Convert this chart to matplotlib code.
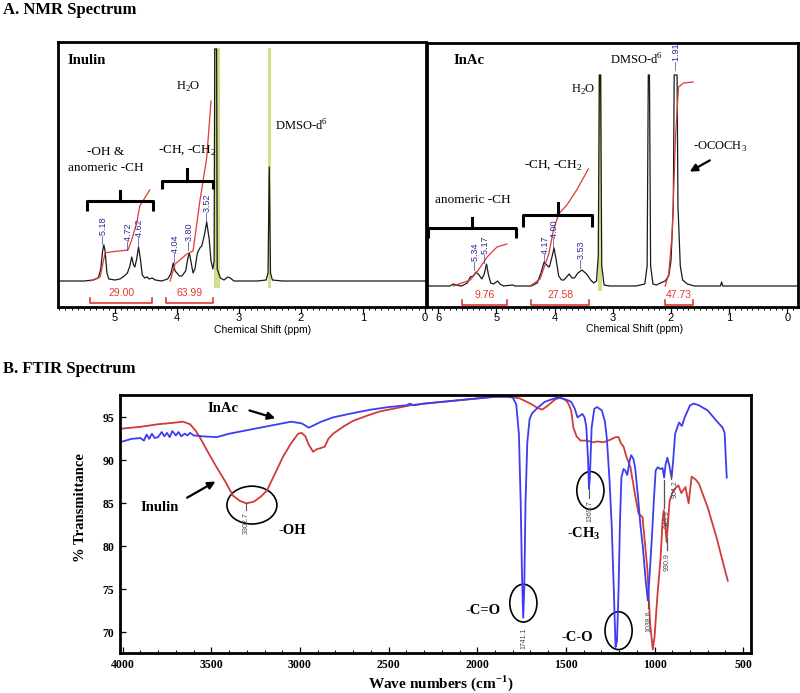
import matplotlib
matplotlib.use("Agg")
import matplotlib.pyplot as plt
import matplotlib.transforms as mtransforms
from matplotlib.patches import Ellipse
from matplotlib.ticker import MultipleLocator

SERIF = "Liberation Serif"
SANS = "Liberation Sans"

# ---------------- NMR: Inulin (ppm, intensity) ----------------
inulin_ppm = [5.92, 5.50, 5.35, 5.27, 5.23, 5.20, 5.18, 5.16, 5.13, 5.10, 5.00, 4.92,
              4.85, 4.80, 4.76, 4.73, 4.70, 4.68, 4.65, 4.62, 4.59, 4.56, 4.52, 4.48,
              4.45, 4.40, 4.35, 4.25, 4.15, 4.10, 4.06, 4.03, 4.00, 3.96, 3.92, 3.86,
              3.82, 3.80, 3.77, 3.74, 3.71, 3.67, 3.63, 3.60, 3.56, 3.52, 3.48, 3.45,
              3.42, 3.40, 3.39, 3.36, 3.35, 3.30, 3.24, 3.18, 3.14, 3.08, 2.70, 2.56,
              2.53, 2.51, 2.49, 2.46, 2.30, -0.1]
inulin_int = [0, 0, 1, 3, 12, 30, 36, 30, 8, 2, 1, 2,
              5, 8, 15, 24, 16, 14, 22, 34, 22, 6, 3, 4,
              2, 3, 1, 0, 2, 7, 18, 10, 8, 5, 5, 10,
              24, 28, 18, 8, 12, 28, 33, 35, 45, 59, 42, 20,
              12, 20, 232, 232, 12, 3, 1, 4, 3, 0, 0, 1,
              8, 114, 8, 1, 0, 0]

inulin_integ_ppm = [[5.40, 5.24, 5.16, 5.08, 4.79, 4.73, 4.65, 4.60, 4.44],
                    [4.11, 4.03, 3.84, 3.74, 3.68, 3.63, 3.52, 3.45]]
inulin_integ_val = [[0, 4, 28, 29, 31, 41, 58, 75, 91],
                    [0, 17, 27, 30, 57, 80, 123, 180]]
inulin_bar_ranges = [(5.40, 4.40), (4.18, 3.42)]
inulin_bar_labels = ["29.00", "63.99"]
inulin_peak_labels = ["5.18", "4.72", "4.62", "4.04", "3.80", "3.52"]
inulin_peak_pos = [(5.18, 37), (4.79, 31), (4.61, 35), (4.02, 19), (3.79, 31), (3.50, 60)]

# ---------------- NMR: InAc (ppm, intensity) ----------------
inac_ppm = [6.19, 5.80, 5.74, 5.70, 5.60, 5.50, 5.45, 5.40, 5.35, 5.30, 5.25, 5.21,
            5.17, 5.14, 5.10, 5.05, 4.98, 4.94, 4.88, 4.72, 4.68, 4.40, 4.30, 4.24,
            4.18, 4.12, 4.09, 4.05, 4.01, 3.97, 3.93, 3.88, 3.84, 3.78, 3.75, 3.70,
            3.66, 3.60, 3.53, 3.45, 3.38, 3.33, 3.28, 3.25, 3.23, 3.21, 3.19, 3.15,
            3.05, 2.60, 2.45, 2.41, 2.39, 2.37, 2.35, 2.31, 2.25, 2.18, 2.10, 2.04,
            2.00, 1.96, 1.945, 1.895, 1.88, 1.84, 1.80, 1.72, 1.60, 1.15, 1.13, 1.11, -0.2]
inac_int = [0, 0, 2, 1, 0, 3, 9, 10, 14, 11, 7, 12,
            22, 12, 3, 2, 5, 2, 0, 1, 0, 0, 3, 12,
            24, 20, 19, 28, 38, 25, 10, 6, 6, 10, 12, 8,
            8, 13, 16, 12, 6, 3, 5, 30, 211, 211, 20, 1,
            0, 0, 2, 20, 211, 211, 20, 2, 1, 3, 5, 10,
            25, 80, 211, 211, 80, 20, 6, 2, 0, 0, 4, 0, 0]

inac_integ_ppm = [[5.74, 5.45, 5.31, 5.16, 4.99, 4.82],
                  [4.42, 4.25, 4.10, 4.02, 3.93, 3.79, 3.62, 3.42],
                  [2.10, 2.04, 1.98, 1.92, 1.87, 1.78, 1.62]]
inac_integ_val = [[0, 6, 16, 29, 39, 42],
                  [0, 7, 32, 56, 72, 81, 96, 117],
                  [0, 12, 52, 152, 199, 203, 204]]
inac_bar_ranges = [(5.60, 4.81), (4.40, 3.41), (2.10, 1.62)]
inac_bar_labels = ["9.76", "27.58", "47.73"]
inac_peak_labels = ["5.34", "5.17", "4.17", "4.00", "3.53", "1.91"]
inac_peak_pos = [(5.36, 16), (5.18, 23), (4.16, 23), (4.01, 39), (3.53, 18), (1.91, 216)]

# ---------------- FTIR (wavenumber, %T) ----------------
inac_wn = [4000, 3950, 3900, 3880, 3865, 3850, 3835, 3820, 3800, 3780, 3765, 3750,
           3735, 3720, 3700, 3685, 3670, 3650, 3635, 3620, 3600, 3550, 3470, 3400,
           3300, 3200, 3100, 3050, 2990, 2950, 2930, 2880, 2813, 2700, 2600, 2500,
           2400, 2380, 2360, 2300, 2200, 2100, 2000, 1900, 1830, 1800, 1780, 1765,
           1755, 1748, 1741, 1735, 1728, 1718, 1705, 1690, 1660, 1620, 1580, 1550,
           1520, 1490, 1470, 1450, 1435, 1420, 1407, 1395, 1385, 1375, 1370, 1365,
           1355, 1340, 1324, 1297, 1280, 1269, 1255, 1242, 1230, 1220, 1212, 1203,
           1195, 1187, 1175, 1165, 1154, 1140, 1132, 1120, 1110, 1093, 1080, 1066,
           1050, 1038, 1030, 1016, 1005, 994, 983, 967, 955, 946, 938, 928,
           918, 904, 895, 884, 862, 846, 830, 800, 780, 750, 700, 651,
           616, 605, 593]
inac_T = [92.2, 92.5, 92.6, 92.3, 93.0, 92.5, 93.1, 92.6, 92.7, 93.3, 92.8, 93.2,
          92.7, 93.4, 92.9, 93.3, 92.8, 93.1, 92.9, 93.2, 92.9, 92.8, 92.7, 93.1,
          93.5, 93.9, 94.3, 94.5, 94.3, 93.8, 94.0, 94.5, 95.0, 95.5, 95.9, 96.2,
          96.4, 96.6, 96.4, 96.6, 96.8, 97.0, 97.2, 97.4, 97.4, 97.3, 96.5, 93.0,
          85.0, 77.0, 71.7, 75.0, 85.0, 92.0, 94.8, 95.5, 96.1, 96.8, 97.1, 97.3,
          97.2, 97.0, 96.8, 96.0, 95.0, 95.2, 95.4, 95.0, 93.9, 90.0, 86.7, 88.0,
          93.8, 96.0, 96.2, 95.8, 94.5, 92.5, 88.0, 82.6, 75.0, 68.3, 69.0, 75.0,
          83.0, 88.0, 89.0, 88.8, 88.3, 90.0, 90.6, 90.2, 89.2, 85.7, 82.5, 79.9,
          76.0, 73.7, 76.0, 80.7, 85.0, 88.8, 89.2, 89.0, 89.1, 88.0, 89.5, 90.3,
          89.5, 88.0, 90.0, 93.1, 94.4, 94.0, 95.0, 96.4, 96.6, 96.4, 95.8, 94.6,
          93.8, 93.2, 88.0]

inulin_wn = [4000, 3900, 3800, 3700, 3660, 3620, 3590, 3565, 3520, 3470, 3420, 3378,
             3340, 3302, 3260, 3220, 3186, 3140, 3096, 3050, 3010, 2990, 2970, 2950,
             2926, 2905, 2887, 2860, 2840, 2813, 2750, 2700, 2621, 2548, 2450, 2379,
             2300, 2200, 2100, 2000, 1900, 1814, 1760, 1700, 1660, 1633, 1600, 1560,
             1531, 1500, 1486, 1470, 1458, 1440, 1418, 1380, 1350, 1320, 1288, 1250,
             1220, 1203, 1190, 1175, 1160, 1136, 1110, 1090, 1068, 1055, 1040, 1025,
             1010, 1000, 985, 966, 955, 948, 940, 932, 925, 915, 895, 866,
             849, 826, 808, 791, 770, 750, 700, 650, 600, 587]
inulin_T = [93.7, 93.9, 94.2, 94.4, 94.5, 94.2, 93.5, 92.7, 91.0, 89.2, 87.5, 85.9,
            85.3, 85.0, 85.2, 85.8, 86.5, 88.5, 90.4, 92.0, 93.1, 93.2, 92.8, 91.8,
            91.0, 91.3, 91.4, 91.6, 92.5, 93.1, 94.0, 94.6, 95.2, 95.7, 96.1, 96.4,
            96.6, 96.8, 97.0, 97.2, 97.4, 97.4, 97.2, 96.6, 96.1, 95.9, 96.4, 97.1,
            97.3, 97.0, 96.6, 95.8, 93.8, 92.8, 92.3, 92.3, 92.1, 92.2, 92.1, 92.4,
            92.7, 92.7, 92.0, 91.6, 90.5, 89.2, 86.0, 83.8, 83.4, 80.5, 77.2, 71.0,
            68.0, 69.5, 74.0, 78.7, 83.0, 84.2, 82.5, 80.5, 82.5, 85.3, 86.5, 87.1,
            86.2, 86.9, 85.0, 88.1, 87.8, 87.3, 84.5, 81.0, 77.0, 76.0]

ftir_peak_labels = ["3302.7", "1741.1", "1369.7", "1038.6", "945.9", "930.9", "904.2"]
ftir_peak_text_pos = [(3302, 84.0), (1738, 70.6), (1362, 85.4), (1030, 72.6),
                      (928, 84.2), (928, 79.2), (884, 87.7)]

NMR_BLACK = "#1a1a1a"
INTEG_RED = "#e03a30"
LABEL_BLUE = "#2b2b96"
BAND = "#d5dc8c"
FT_BLUE = "#3c3cf2"
FT_RED = "#d03c3a"


def style_nmr(ax, xlim, ylim):
    ax.set_xlim(*xlim)
    ax.set_ylim(*ylim)
    ax.set_yticks([])
    ax.xaxis.set_major_locator(MultipleLocator(1))
    ax.xaxis.set_minor_locator(MultipleLocator(0.1))
    ax.tick_params(axis="x", which="major", direction="out", length=4, width=0.9,
                   pad=0.5, labelsize=8)
    ax.tick_params(axis="x", which="minor", direction="out", length=2.2, width=0.7)
    for label in ax.get_xticklabels():
        label.set_fontfamily(SANS)
    for spine in ax.spines.values():
        spine.set_linewidth(2)
    trans = mtransforms.blended_transform_factory(ax.transData, ax.transAxes)
    ax.text(2.62, -0.085, "Chemical Shift (ppm)", transform=trans, ha="center",
            va="center", fontsize=7.5, family=SANS)


def draw_brace(ax, left, right, level, hook, tip):
    mid = (left + right) / 2
    ax.plot([left, left, right, right], [level - hook, level, level, level - hook],
            color="black", lw=2.2, solid_capstyle="butt")
    ax.plot([mid, mid], [level, level + tip], color="black", lw=2.2)


def draw_integrals(ax, xs, ys, bars, labels, bar_h, tick_h, label_h):
    for x, y in zip(xs, ys):
        ax.plot(x, y, color=INTEG_RED, lw=0.9)
    for (a, b), text in zip(bars, labels):
        ax.plot([a, a, b, b], [tick_h, bar_h, bar_h, tick_h], color=INTEG_RED, lw=1.2)
        ax.text((a + b) / 2, label_h, text, color=INTEG_RED, ha="center", va="center",
                fontsize=7.5, family=SANS)


def draw_peak_labels(ax, labels, positions):
    for text, (x, y) in zip(labels, positions):
        ax.text(x, y, "\u2014" + text, rotation=90, ha="center", va="bottom",
                color=LABEL_BLUE, fontsize=6.5, family=SANS)


fig = plt.figure(figsize=(8, 6.93), dpi=100)

# ---------- A. NMR, Inulin ----------
ax1 = fig.add_axes([0.0725, 0.557, 0.46, 0.3824])
ax1.fill_betweenx([-7, 233], 3.40, 3.31, color=BAND, lw=0)
ax1.fill_betweenx([-7, 233], 2.53, 2.48, color=BAND, lw=0)
ax1.plot(inulin_ppm, inulin_int, color=NMR_BLACK, lw=0.9)
draw_integrals(ax1, inulin_integ_ppm, inulin_integ_val, inulin_bar_ranges,
               inulin_bar_labels, -22, -17, -12)
draw_peak_labels(ax1, inulin_peak_labels, inulin_peak_pos)
draw_brace(ax1, 5.45, 4.39, 80, 10, 10)
draw_brace(ax1, 4.24, 3.42, 100, 8, 12)
ax1.text(5.76, 220, "Inulin", fontsize=10.5, fontweight="bold", family=SERIF, va="center")
ax1.text(3.82, 194, "H$_\\mathregular{2}$O", fontsize=9, family=SERIF, ha="center", va="center")
ax1.text(2.42, 155, "DMSO-d$^\\mathregular{6}$", fontsize=9, family=SERIF, va="center")
ax1.text(5.16, 129, "-OH &", fontsize=9.5, family=SERIF, ha="center", va="center")
ax1.text(5.15, 113, "anomeric -CH", fontsize=9.5, family=SERIF, ha="center", va="center")
ax1.text(3.84, 131, "-CH, -CH$_\\mathregular{2}$", fontsize=9.5, family=SERIF,
         ha="center", va="center")
style_nmr(ax1, (5.92, -0.02), (-26, 239))

# ---------- A. NMR, InAc ----------
ax2 = fig.add_axes([0.534, 0.557, 0.464, 0.381])
ax2.fill_betweenx([-5, 211], 3.25, 3.18, color=BAND, lw=0)
ax2.plot(inac_ppm, inac_int, color=NMR_BLACK, lw=0.9)
draw_integrals(ax2, inac_integ_ppm, inac_integ_val, inac_bar_ranges,
               inac_bar_labels, -19, -14, -9)
draw_peak_labels(ax2, inac_peak_labels, inac_peak_pos)
draw_brace(ax2, 6.17, 4.66, 58, 10, 10)
draw_brace(ax2, 4.54, 3.35, 71, 12, 12)
ax2.text(5.74, 225, "InAc", fontsize=10.5, fontweight="bold", family=SERIF, va="center")
ax2.text(3.51, 196, "H$_\\mathregular{2}$O", fontsize=9, family=SERIF, ha="center", va="center")
ax2.text(3.04, 226, "DMSO-d$^\\mathregular{6}$", fontsize=9, family=SERIF, va="center")
ax2.text(1.62, 139, "-OCOCH$_\\mathregular{3}$", fontsize=9, family=SERIF, va="center")
ax2.text(5.40, 86, "anomeric -CH", fontsize=9.5, family=SERIF, ha="center", va="center")
ax2.text(4.02, 121, "-CH, -CH$_\\mathregular{2}$", fontsize=9.5, family=SERIF,
         ha="center", va="center")
ax2.annotate("", xy=(1.72, 113), xytext=(1.29, 127),
             arrowprops=dict(arrowstyle="-|>", color="black", lw=1.6, mutation_scale=11))
style_nmr(ax2, (6.19, -0.19), (-21, 243))

fig.text(0.004, 1 - 2 / 693, "A. NMR Spectrum", fontsize=12, fontweight="bold",
         family=SERIF, va="top")
fig.text(0.004, 1 - 361 / 693, "B. FTIR Spectrum", fontsize=12, fontweight="bold",
         family=SERIF, va="top")

# ---------- B. FTIR ----------
ax3 = fig.add_axes([0.15, 0.0577, 0.789, 0.3723])
ax3.plot(inulin_wn, inulin_T, color=FT_RED, lw=1.3)
ax3.plot(inac_wn, inac_T, color=FT_BLUE, lw=1.3)
ax3.set_xlim(4015, 455)
ax3.set_ylim(67.6, 97.6)
ax3.xaxis.set_major_locator(MultipleLocator(500))
ax3.xaxis.set_minor_locator(MultipleLocator(100))
ax3.set_yticks([70, 75, 80, 85, 90, 95])
ax3.tick_params(which="major", direction="in", length=4, width=0.9, labelsize=8.5, pad=4)
ax3.tick_params(which="minor", direction="in", length=2.5, width=0.7)
for label in ax3.get_xticklabels() + ax3.get_yticklabels():
    label.set_fontfamily(SERIF)
    label.set_fontweight("bold")
for spine in ax3.spines.values():
    spine.set_linewidth(2)

for center, width in [((3271, 84.8), 282), ((1740, 73.4), 153),
                      ((1362, 86.5), 153), ((1203, 70.2), 153)]:
    ax3.add_patch(Ellipse(center, width, 4.4, fill=False, lw=1.2, color="black"))

ax3.plot([3302, 3302], [85.0, 84.2], color="#555555", lw=0.8)
ax3.plot([1368, 1368], [86.7, 85.6], color="#555555", lw=0.8)
ax3.plot([1038, 1038], [73.7, 72.8], color="#555555", lw=0.8)
ax3.plot([948, 948], [87.7, 84.5], color="#555555", lw=0.9)
ax3.plot([931, 931], [81.0, 79.6], color="#555555", lw=0.9)
ax3.plot([907, 907], [88.6, 87.8], color="#555555", lw=0.9)
for text, (x, y) in zip(ftir_peak_labels, ftir_peak_text_pos):
    ax3.text(x, y, text, rotation=90, ha="center", va="top", fontsize=5,
             color="#444444", family=SANS)

ax3.text(3435, 96.0, "InAc", fontsize=10.5, fontweight="bold", family=SERIF,
         ha="center", va="center")
ax3.annotate("", xy=(3124, 94.8), xytext=(3300, 95.9),
             arrowprops=dict(arrowstyle="-|>", color="black", lw=1.6, mutation_scale=11))
ax3.text(3791, 84.5, "Inulin", fontsize=10.5, fontweight="bold", family=SERIF,
         ha="center", va="center")
ax3.annotate("", xy=(3463, 87.7), xytext=(3650, 85.5),
             arrowprops=dict(arrowstyle="-|>", color="black", lw=1.6, mutation_scale=11))
ax3.text(3045, 81.9, "-OH", fontsize=10.5, fontweight="bold", family=SERIF,
         ha="center", va="center")
ax3.text(1966, 72.6, "-C=O", fontsize=10.5, fontweight="bold", family=SERIF,
         ha="center", va="center")
ax3.text(1396, 81.5, "-CH$_\\mathregular{3}$", fontsize=10.5, fontweight="bold",
         family=SERIF, ha="center", va="center")
ax3.text(1436, 69.4, "-C-O", fontsize=10.5, fontweight="bold", family=SERIF,
         ha="center", va="center")

fig.text(80 / 800, 1 - 508 / 693, "% Transmittance", rotation=90, fontsize=10.5,
         fontweight="bold", family=SERIF, ha="center", va="center")
fig.text(441 / 800, 1 - 683 / 693, "Wave numbers (cm$^\\mathregular{-1}$)", fontsize=11,
         fontweight="bold", family=SERIF, ha="center", va="center")

fig.savefig("out.png", dpi=100)
